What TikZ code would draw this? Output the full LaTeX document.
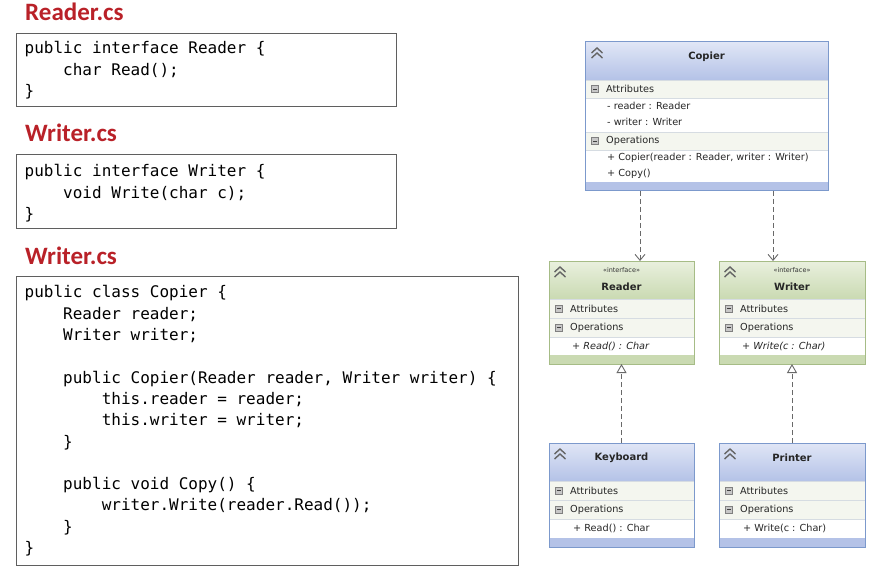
\documentclass[tikz,border=0pt]{standalone}
\usepackage{fontspec}
\setmainfont{DejaVu Sans}
\setmonofont{DejaVu Sans Mono}
\newfontfamily\titlefont{Carlito}
\usetikzlibrary{arrows.meta}

\definecolor{titlered}{RGB}{185,33,40}
\definecolor{codeframe}{RGB}{95,95,95}
\definecolor{classtop}{RGB}{224,230,246}
\definecolor{classbot}{RGB}{180,194,231}
\definecolor{classline}{RGB}{124,153,204}
\definecolor{ifacetop}{RGB}{233,240,222}
\definecolor{ifacebot}{RGB}{202,218,178}
\definecolor{ifaceline}{RGB}{166,188,134}
\definecolor{rowfill}{RGB}{244,246,239}
\definecolor{rowline}{RGB}{214,220,226}
\definecolor{connector}{RGB}{105,105,105}

\newcommand{\cind}{\phantom{xxxx}}
% header, bottom band and the node that names the box
\newcommand{\umlbox}[7]{%
  \node[inner sep=0pt, outer sep=0pt, minimum width={#4-#2}, minimum height={#5-#3}, anchor=north west] (#1) at (#2,#3) {};
  \fill[white] (#2,#3) rectangle (#4,#5);
  \shade[top color=#6, bottom color=#7] (#2,#3) rectangle (#4,#3+38);
  \fill[#7] (#2,#5-9) rectangle (#4,#5);
}
\newcommand{\umlrow}[6]{%
  \fill[rowfill] (#1,#3) rectangle (#2,#4);
  \draw[rowline] (#1,#3) -- (#2,#3) (#1,#4) -- (#2,#4);
  \draw[minusbox] (#1+6.5,{(#3+#4)/2-3.5}) rectangle ++(7,7);
  \draw[minusline] (#1+8.3,{(#3+#4)/2}) -- ++(3.4,0);
  \node[umltext, anchor=west] (#6) at (#1+21,{(#3+#4)/2}) {#5};
}
\newcommand{\collapse}[2]{%
  \draw[chev] (#1-5.5,#2+5) -- (#1,#2) -- (#1+5.5,#2+5)
              (#1-5.5,#2+10) -- (#1,#2+5) -- (#1+5.5,#2+10);
}

\begin{document}
\begin{tikzpicture}[x=1pt, y=-1pt,
  title/.style={font=\titlefont\bfseries\fontsize{25}{29}\selectfont, text=titlered, inner sep=0pt},
  code/.style={font=\ttfamily\fontsize{16}{21.3}\selectfont, align=left, inner sep=0pt},
  codebox/.style={draw=codeframe, line width=1pt, inner sep=0pt},
  umltext/.style={font=\fontsize{9.7}{11}\selectfont, inner sep=0pt, text=black!85},
  umlname/.style={font=\bfseries\fontsize{10}{12}\selectfont, inner sep=0pt, text=black!85},
  stereo/.style={font=\fontsize{6.5}{8}\selectfont, inner sep=0pt, text=black!80},
  minusbox/.style={draw=black!50, fill=black!22, line width=0.5pt},
  minusline/.style={draw=black!75, line width=0.9pt},
  chev/.style={draw=black!60, line width=1.4pt},
  classframe/.style={draw=classline, line width=1pt},
  ifaceframe/.style={draw=ifaceline, line width=1pt},
  dep/.style={draw=connector, line width=0.9pt, dash pattern=on 5pt off 3pt,
    -{Straight Barb[length=6pt, width=10pt]}},
  real/.style={draw=connector, line width=0.9pt, dash pattern=on 5pt off 3pt,
    -{Triangle[open, length=9pt, width=10pt, fill=white]}}]
\fill[white] (0,0) rectangle (885,569);
\useasboundingbox (0,0) rectangle (885,569);

% source files
\node[title, anchor=base west] (readertitle) at (25,21) {Reader.cs};
\node[codebox, minimum width=380pt, minimum height=73pt, anchor=north west] (readerbox) at (16,33) {};
\node[code, anchor=north west] (readercode) at (24.5,41.5) {public interface Reader \{\\
\cind char Read();\\
\}};

\node[title, anchor=base west] (writertitle) at (25,142) {Writer.cs};
\node[codebox, minimum width=380pt, minimum height=74pt, anchor=north west] (writerbox) at (16,154) {};
\node[code, anchor=north west] (writercode) at (24.5,164.5) {public interface Writer \{\\
\cind void Write(char c);\\
\}};

\node[title, anchor=base west] (copiertitle) at (25,264) {Writer.cs};
\node[codebox, minimum width=502pt, minimum height=289pt, anchor=north west] (copierbox) at (16,276) {};
\node[code, anchor=north west] (copiercode) at (24.5,285.5) {public class Copier \{\\
\cind Reader reader;\\
\cind Writer writer;\\[21.3pt]
\cind public Copier(Reader reader, Writer writer) \{\\
\cind\cind this.reader = reader;\\
\cind\cind this.writer = writer;\\
\cind \}\\[21.3pt]
\cind public void Copy() \{\\
\cind\cind writer.Write(reader.Read());\\
\cind \}\\
\}};

% class diagram
\umlbox{copier}{585}{42}{828}{191}{classtop}{classbot}
\collapse{597}{48}
\node[umlname] (copiername) at (706.5,57) {Copier};
\umlrow{585}{828}{80}{98}{Attributes}{copierattr}
\node[umltext, anchor=west] (copierf1) at (607,106) {- reader : Reader};
\node[umltext, anchor=west] (copierf2) at (607,122) {- writer : Writer};
\umlrow{585}{828}{132}{150}{Operations}{copierops}
\node[umltext, anchor=west] (copierm1) at (607,158) {+ Copier(reader : Reader, writer : Writer)};
\node[umltext, anchor=west] (copierm2) at (607,174) {+ Copy()};
\draw[classframe] (copier.north west) rectangle (copier.south east);

\umlbox{reader}{549}{261}{694}{364}{ifacetop}{ifacebot}
\collapse{560}{267}
\node[stereo] (readerstereo) at (621.5,270) {«interface»};
\node[umlname] (readername) at (621.5,287) {Reader};
\umlrow{549}{694}{299}{318}{Attributes}{readerattr}
\umlrow{549}{694}{318}{337}{Operations}{readerops}
\node[umltext, font=\itshape\fontsize{9.7}{11}\selectfont, anchor=west] (readerm1) at (572,346) {+ Read() : Char};
\draw[ifaceframe] (reader.north west) rectangle (reader.south east);

\umlbox{writer}{719}{261}{865}{364}{ifacetop}{ifacebot}
\collapse{730}{267}
\node[stereo] (writerstereo) at (792,270) {«interface»};
\node[umlname] (writername) at (792,287) {Writer};
\umlrow{719}{865}{299}{318}{Attributes}{writerattr}
\umlrow{719}{865}{318}{337}{Operations}{writerops}
\node[umltext, font=\itshape\fontsize{9.7}{11}\selectfont, anchor=west] (writerm1) at (742,346) {+ Write(c : Char)};
\draw[ifaceframe] (writer.north west) rectangle (writer.south east);

\umlbox{keyboard}{549}{443}{694}{547}{classtop}{classbot}
\collapse{560}{449}
\node[umlname] (keyboardname) at (621.5,458) {Keyboard};
\umlrow{549}{694}{481}{500}{Attributes}{keyboardattr}
\umlrow{549}{694}{500}{519}{Operations}{keyboardops}
\node[umltext, anchor=west] (keyboardm1) at (573,528) {+ Read() : Char};
\draw[classframe] (keyboard.north west) rectangle (keyboard.south east);

\umlbox{printer}{719}{443}{865}{547}{classtop}{classbot}
\collapse{730}{449}
\node[umlname] (printername) at (792,458) {Printer};
\umlrow{719}{865}{481}{500}{Attributes}{printerattr}
\umlrow{719}{865}{500}{519}{Operations}{printerops}
\node[umltext, anchor=west] (printerm1) at (743,528) {+ Write(c : Char)};
\draw[classframe] (printer.north west) rectangle (printer.south east);

% dependencies and realizations
\draw[dep] (copier.south -| 640,0) -- (reader.north -| 640,0);
\draw[dep] (copier.south -| 773,0) -- (writer.north -| 773,0);
\draw[real] (keyboard.north) -- (reader.south);
\draw[real] (printer.north) -- (writer.south);

\end{tikzpicture}
\end{document}
